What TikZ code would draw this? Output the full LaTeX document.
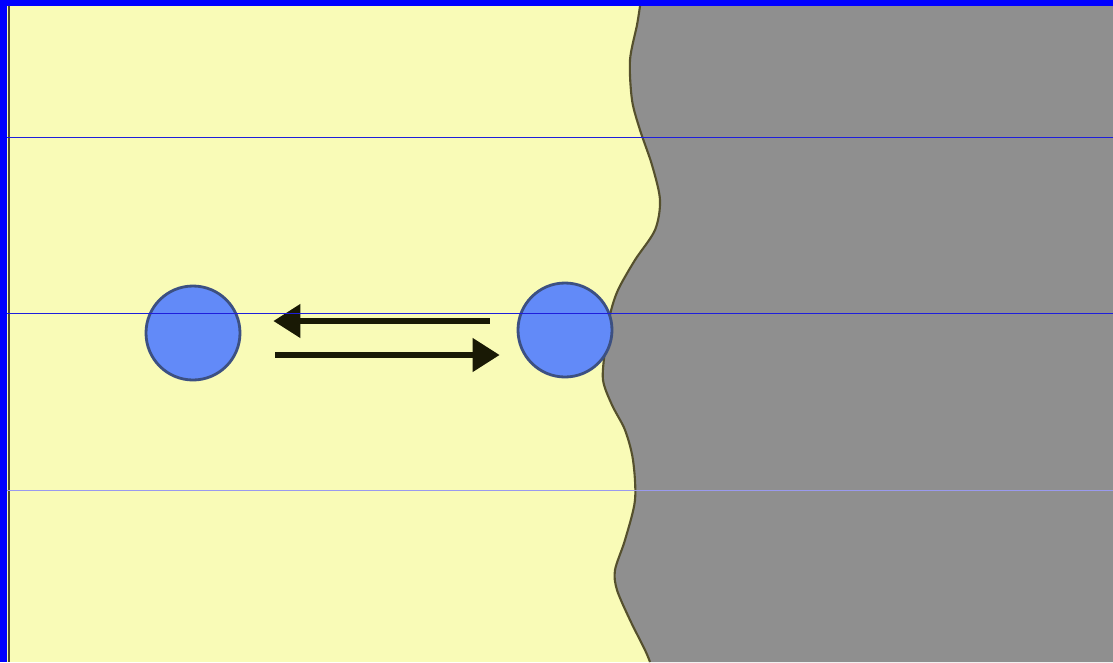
\documentclass[tikz,border=0pt]{standalone}
\usetikzlibrary{arrows.meta,calc}
\definecolor{slideblue}{RGB}{0,0,255}
\definecolor{paper}{RGB}{249,251,183}
\definecolor{solidgrey}{RGB}{143,143,143}
\definecolor{edgeink}{RGB}{85,80,45}
\definecolor{atomfill}{RGB}{98,138,248}
\definecolor{atomedge}{RGB}{60,80,130}
\definecolor{arrowink}{RGB}{25,25,5}
\definecolor{ruleblue}{RGB}{30,30,220}
\begin{document}
\begin{tikzpicture}[x=0.03cm,y=-0.03cm,
  atom/.style={circle,draw=atomedge,fill=atomfill,line width=2.4pt,minimum size=2.82cm,inner sep=0pt},
  flux/.style={line width=4.3pt,draw=arrowink,-{Triangle[length=23pt,width=28pt]}},
  rule/.style={line width=0.8pt,draw=ruleblue}]
\useasboundingbox (0,0) rectangle (1113,662);
\fill[slideblue] (0,0) rectangle (1113,662);
\fill[paper] (7,6) rectangle (1113,662);
\draw[line width=2.5pt,edgeink] (9,6) -- (9,662);
% solid surface
\fill[solidgrey] plot[smooth] coordinates {(640,6) (637,25) (630,60) (632,100) (640,130) (652,165) (660,200) (655,230) (635,260) (618,290) (610,315) (605,350) (603,380) (612,405) (625,430) (633,460) (635,500) (625,540) (615,570) (617,590) (630,620) (645,650) (650,662)} -- (1113,662) -- (1113,6) -- cycle;
\draw[line width=1.8pt,edgeink] plot[smooth] coordinates {(640,6) (637,25) (630,60) (632,100) (640,130) (652,165) (660,200) (655,230) (635,260) (618,290) (610,315) (605,350) (603,380) (612,405) (625,430) (633,460) (635,500) (625,540) (615,570) (617,590) (630,620) (645,650) (650,662)};
\node[atom] (bulk) at (193,333) {};
\node[atom] (adsorbed) at (565,330) {};
\draw[flux] ($(adsorbed.west)+(-27,-9)$) -- ($(bulk.east)+(32,-12)$);
\draw[flux] ($(bulk.east)+(34,22)$) -- ($(adsorbed.west)+(-17,25)$);
\foreach \y in {137,313} {\draw[rule] (7,\y) -- (1113,\y);}
\draw[rule,ruleblue!45] (7,490) -- (1113,490);
\end{tikzpicture}
\end{document}
